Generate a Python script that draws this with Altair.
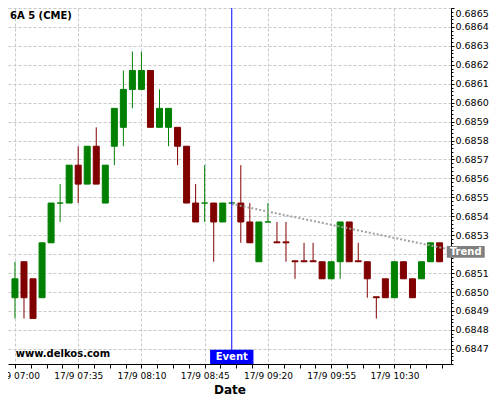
import altair as alt
import pandas as pd

DAY = "2024-09-17 "
times = ["07:00", "07:05", "07:10", "07:15", "07:20", "07:25", "07:30", "07:35", "07:40", "07:45", "07:50", "07:55",
         "08:00", "08:05", "08:10", "08:15", "08:20", "08:25", "08:30", "08:35", "08:40", "08:45", "08:50", "08:55",
         "09:00", "09:05", "09:10", "09:15", "09:20", "09:25", "09:30", "09:35", "09:40", "09:45", "09:50", "09:55",
         "10:00", "10:05", "10:10", "10:15", "10:20", "10:25", "10:30", "10:35", "10:40", "10:45", "10:50", "10:55"]
opens = [0.68497, 0.68516, 0.68507, 0.68497, 0.68526, 0.68547, 0.68547, 0.68567, 0.68557, 0.68577, 0.68547, 0.68577,
         0.68587, 0.68607, 0.68607, 0.68617, 0.68587, 0.68587, 0.68587, 0.68577, 0.68547, 0.68547, 0.68547, 0.68537,
         0.68547, 0.68547, 0.68537, 0.68516, 0.68537, 0.685265, 0.685265, 0.685165, 0.685165, 0.685165, 0.68516, 0.68507,
         0.68516, 0.68537, 0.685165, 0.68516, 0.684975, 0.68507, 0.68497, 0.68516, 0.68507, 0.68507, 0.68516, 0.68526]
highs = [0.68516, 0.68516, 0.68507, 0.68526, 0.68547, 0.68557, 0.68567, 0.68577, 0.68577, 0.68587, 0.68567, 0.68597,
         0.68617, 0.68627, 0.68627, 0.68617, 0.68607, 0.68597, 0.68587, 0.68577, 0.68557, 0.68567, 0.68547, 0.68547,
         0.68547, 0.68567, 0.68547, 0.68537, 0.68547, 0.68537, 0.68537, 0.685165, 0.68526, 0.68526, 0.68516, 0.68516,
         0.68537, 0.68537, 0.68526, 0.68516, 0.684975, 0.68507, 0.68516, 0.68516, 0.68507, 0.68516, 0.68526, 0.68526]
lows = [0.68486, 0.68486, 0.68486, 0.68497, 0.68526, 0.68537, 0.68547, 0.68547, 0.68557, 0.68557, 0.68547, 0.68567,
        0.68577, 0.68597, 0.68607, 0.68587, 0.68587, 0.68577, 0.68567, 0.68547, 0.68537, 0.68537, 0.68516, 0.68537,
        0.68547, 0.68526, 0.68526, 0.68516, 0.68537, 0.68526, 0.68516, 0.68507, 0.68516, 0.68516, 0.68507, 0.68507,
        0.68507, 0.68516, 0.68516, 0.68497, 0.68486, 0.68497, 0.68497, 0.68507, 0.68497, 0.68507, 0.68516, 0.68516]
closes = [0.68507, 0.68497, 0.68486, 0.68526, 0.68547, 0.68547, 0.68567, 0.68557, 0.68577, 0.68557, 0.68567, 0.68597,
          0.68607, 0.68617, 0.68617, 0.68587, 0.68597, 0.68597, 0.68577, 0.68547, 0.68537, 0.68547, 0.68537, 0.68547,
          0.68547, 0.68537, 0.68526, 0.68537, 0.68537, 0.68526, 0.68526, 0.68516, 0.68516, 0.68516, 0.68507, 0.68516,
          0.68537, 0.68516, 0.68516, 0.68507, 0.68497, 0.68497, 0.68516, 0.68507, 0.68497, 0.68516, 0.68526, 0.68516]

trend_times = ["09:00", "10:59"]
trend_values = [0.685465, 0.685228]
event_time = "09:00"
event_box_times = ["08:48", "09:12"]
event_box_values = [0.68462, 0.684695]
trend_box_times = ["10:59", "11:20"]
trend_box_values = [0.685181, 0.685243]
hidden_label = 0.6852  # covered by the Trend tag in the reference
instrument = "6A 5 (CME)"
site = "www.delkos.com"

UP, DOWN = "#008000", "#800000"
FONT = "DejaVu Sans"

df = pd.DataFrame({"t": [DAY + s for s in times], "open": opens, "high": highs, "low": lows, "close": closes})
trend_df = pd.DataFrame({"t": [DAY + s for s in trend_times], "v": trend_values})
event_df = pd.DataFrame({"t": [DAY + event_time], "t1": [DAY + event_box_times[0]], "t2": [DAY + event_box_times[1]],
                         "v1": [event_box_values[0]], "v2": [event_box_values[1]],
                         "vm": [(event_box_values[0] + event_box_values[1]) / 2], "label": ["Event"]})
tbox_df = pd.DataFrame({"t1": [DAY + trend_box_times[0]], "t2": [DAY + trend_box_times[1]],
                        "v1": [trend_box_values[0]], "v2": [trend_box_values[1]],
                        "vm": [(trend_box_values[0] + trend_box_values[1]) / 2], "label": ["Trend"]})
tmid = pd.to_datetime(tbox_df["t1"]) + (pd.to_datetime(tbox_df["t2"]) - pd.to_datetime(tbox_df["t1"])) / 2
tbox_df["tm"] = tmid.dt.strftime("%Y-%m-%d %H:%M:%S")


def dt(h, m, s=0):
    return alt.DateTime(year=2024, month=9, date=17, hours=h, minutes=m, seconds=s)


x_scale = alt.Scale(domain=[dt(6, 58, 55), dt(10, 58, 34)])
y_scale = alt.Scale(domain=[0.68462, 0.6865], zero=False, nice=False)

x_vals = []
for k in range(28):
    s = k * 525
    x_vals.append(dt(7 + s // 3600, (s % 3600) // 60, s % 60))
x_major = "((hours(datum.value)*60 + minutes(datum.value) - 420) % 35 == 0) && seconds(datum.value) == 0"
x_axis = alt.Axis(values=x_vals, labelExpr=f"{x_major} ? timeFormat(datum.value, '%d/%-m %H:%M') : ''",
                  gridOpacity={"condition": {"test": x_major, "value": 1}, "value": 0},
                  grid=True, gridColor="#c8c8c8", gridDash=[3, 2], gridWidth=1,
                  tickSize=4, tickColor="#000000", domainColor="#000000", labelFont=FONT, labelFontSize=9,
                  labelColor="#000000", labelPadding=3, labelFlush=False, labelOverlap=False,
                  title="Date", titleFont=FONT, titleFontSize=12, titleFontWeight="bold", titleColor="#000000",
                  titlePadding=4, zindex=0)

y_vals = [round(0.68462 + k * 0.00002, 5) for k in range(95)]
y_major = "abs(datum.value * 10000 - round(datum.value * 10000)) < 0.001"
y_shown = f"{y_major} && abs(datum.value - {hidden_label}) > 0.000001"
y_axis = alt.Axis(orient="right", values=y_vals, labelExpr=f"({y_shown}) ? format(datum.value, '.4f') : ''",
                  gridOpacity={"condition": {"test": y_major, "value": 1}, "value": 0},
                  tickSize={"condition": {"test": y_major, "value": 3}, "value": 2},
                  grid=True, gridColor="#c8c8c8", gridDash=[3, 2], gridWidth=1,
                  tickColor="#000000", domainColor="#000000", labelFont=FONT, labelFontSize=9.5,
                  labelColor="#000000", labelPadding=1, labelFlush=True, labelOverlap=False, title=None, zindex=0)


def X(field):
    return alt.X(field, type="temporal", scale=x_scale, axis=x_axis)


def Y(field):
    return alt.Y(field, type="quantitative", scale=y_scale, axis=y_axis)


col = alt.condition(alt.datum.close >= alt.datum.open, alt.value(UP), alt.value(DOWN))

wicks = alt.Chart(df).mark_rule(strokeWidth=1).encode(x=X("t"), y=Y("low"), y2="high", color=col)
bodies = alt.Chart(df).mark_bar(width=6, strokeWidth=1).encode(x=X("t"), y=Y("open"), y2="close", fill=col, stroke=col)

trend = alt.Chart(trend_df).mark_line(color="#a0a0a0", strokeWidth=2, strokeDash=[2, 2]).encode(x=X("t"), y=Y("v"))

event_rule = alt.Chart(event_df).mark_rule(color="#0000ff", strokeWidth=1).encode(x=X("t"))
event_box = alt.Chart(event_df).mark_bar(color="#0000ff").encode(x=X("t1"), x2="t2", y=Y("v1"), y2="v2")
event_text = alt.Chart(event_df).mark_text(color="white", font=FONT, fontSize=10, fontWeight="bold",
                                           align="center", baseline="middle").encode(x=X("t"), y=Y("vm"), text="label:N")

tbox = alt.Chart(tbox_df).mark_bar(color="#808080").encode(x=X("t1"), x2="t2", y=Y("v1"), y2="v2")
ttext = alt.Chart(tbox_df).mark_text(color="white", font=FONT, fontSize=10, fontWeight="bold",
                                     align="center", baseline="middle").encode(x=X("tm"), y=Y("vm"), text="label:N")

wm1 = alt.Chart(pd.DataFrame({"label": [instrument]})).mark_text(
    font=FONT, fontSize=10, fontWeight="bold", color="#000000", align="left", baseline="middle"
).encode(x=alt.value(2), y=alt.value(7.5), text="label:N")
wm2 = alt.Chart(pd.DataFrame({"label": [site]})).mark_text(
    font=FONT, fontSize=10, fontWeight="bold", color="#000000", align="left", baseline="middle"
).encode(x=alt.value(7.7), y=alt.value(346), text="label:N")

chart = alt.layer(wicks, bodies, trend, event_rule, event_box, event_text, tbox, ttext, wm1, wm2).properties(
    width=443, height=356, autosize=alt.AutoSizeParams(type="none"),
    padding={"left": 0, "top": 0, "right": 41, "bottom": 34}, background="white"
).configure_view(stroke=None)

chart.save("out.html", embed_options={"renderer": "svg", "actions": False})
